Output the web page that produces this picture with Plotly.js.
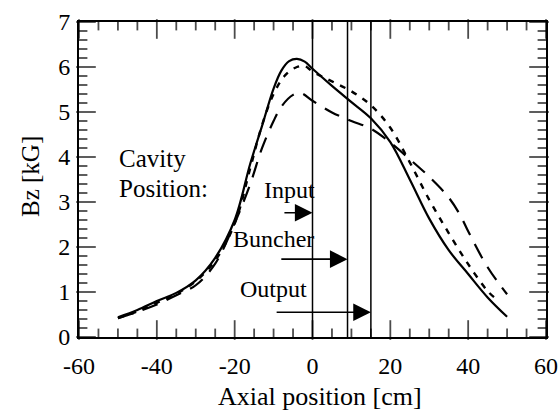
<!DOCTYPE html>
<html>
<head>
<meta charset="utf-8">
<script src="https://cdn.plot.ly/plotly-3.0.1.min.js"></script>
<style>html,body{margin:0;padding:0;background:#fff;}#chart{width:559px;height:420px;}</style>
</head>
<body>
<div id="chart"></div>
<script>
// Solid curve
const solidX = [-50,-45,-40,-35,-30,-25,-20,-16,-13,-10,-8,-6,-4,-2,0,5,10,15,20,25,30,35,40,45,50];
const solidY = [0.44,0.60,0.80,0.98,1.26,1.76,2.60,3.85,4.68,5.52,5.92,6.13,6.18,6.12,5.96,5.58,5.22,4.86,4.33,3.50,2.63,1.93,1.40,0.88,0.45];
// Short-dashed curve
const shortX = [-50,-45,-40,-35,-30,-25,-20,-16,-13,-10,-7,-4,-2,0,5,10,15,20,25,30,35,40,45,47];
const shortY = [0.42,0.57,0.76,0.96,1.24,1.70,2.52,3.75,4.70,5.40,5.82,6.00,6.02,5.90,5.68,5.46,5.15,4.65,3.88,3.05,2.31,1.62,1.02,0.86];
// Long-dashed curve
const longX = [-50,-45,-40,-35,-30,-25,-20,-16,-13,-10,-8,-5,-3,0,5,10,15,20,25,30,35,38,40,45,50];
const longY = [0.42,0.56,0.72,0.93,1.15,1.63,2.53,3.40,4.19,4.80,5.12,5.38,5.42,5.25,4.99,4.80,4.63,4.32,3.95,3.56,3.10,2.70,2.35,1.55,0.95];
// Cavity positions (vertical lines) and arrows
const cavityNames = ['Input','Buncher','Output'];
const cavityX = [0, 9, 15];
const arrowY = [2.76, 1.73, 0.55];
const arrowTailX = [-7.6, -8.4, -9.6];
// Ticks
const xTickVals = [-60,-40,-20,0,20,40,60];
const xTickText = ['-60','-40','-20','0','20','40','60'];
const xMinorStep = 5;
const yTickVals = [0,1,2,3,4,5,6,7];
const yTickText = ['0','1','2','3','4','5','6','7'];
const yMinorStep = 0.2;

const FONT = '"Liberation Serif", "Times New Roman", serif';
const W = 559, H = 420;
const MARGIN = {l:79, r:13, t:22, b:83};
const XR = [-60, 60], YR = [0, 7];
const plotW = W - MARGIN.l - MARGIN.r, plotH = H - MARGIN.t - MARGIN.b;
const pxX = (XR[1] - XR[0]) / plotW;
const pxY = (YR[1] - YR[0]) / plotH;
const MAJ = 14, MIN = 7;   // inward tick lengths in px

// inward ticks as line-shaped markers centred half a tick length inside each edge
const xtX = [], xtY = [], xtS = [];
const ytX = [], ytY = [], ytS = [];
function xTick(v, len){
  xtX.push(v, v); xtY.push(YR[0] + len / 2 * pxY, YR[1] - len / 2 * pxY); xtS.push(len, len);
}
function yTick(v, len){
  ytY.push(v, v); ytX.push(XR[0] + len / 2 * pxX, XR[1] - len / 2 * pxX); ytS.push(len, len);
}
xTickVals.forEach(function(v){ xTick(v, MAJ); });
for (let v = XR[0] + xMinorStep; v < XR[1]; v += xMinorStep) { if (xTickVals.indexOf(v) < 0) xTick(v, MIN); }
yTickVals.forEach(function(v){ yTick(v, MAJ); });
for (let i = 1; i * yMinorStep < YR[1] - 1e-9; i++) { const v = +(i * yMinorStep).toFixed(3); if (Math.abs(v - Math.round(v)) > 1e-6) yTick(v, MIN); }

const vx = [], vy = [];
cavityX.forEach(function(c){ vx.push(c, c, null); vy.push(YR[0], YR[1], null); });

const traces = [
  {x: solidX, y: solidY, mode:'lines', line:{color:'#000', width:2.2, shape:'spline', smoothing:1}, showlegend:false, hoverinfo:'skip'},
  {x: shortX, y: shortY, mode:'lines', line:{color:'#000', width:2.4, dash:'6px,7px', shape:'spline', smoothing:1}, showlegend:false, hoverinfo:'skip'},
  {x: longX, y: longY, mode:'lines', line:{color:'#000', width:2.2, dash:'16px,10px', shape:'spline', smoothing:1}, showlegend:false, hoverinfo:'skip'},
  {x: vx, y: vy, mode:'lines', line:{color:'#000', width:1.5}, showlegend:false, hoverinfo:'skip'},
  {x: xtX, y: xtY, mode:'markers', cliponaxis:false, marker:{symbol:'line-ns', size:xtS, color:'#000', line:{color:'#000', width:1.8}}, showlegend:false, hoverinfo:'skip'},
  {x: ytX, y: ytY, mode:'markers', cliponaxis:false, marker:{symbol:'line-ew', size:ytS, color:'#000', line:{color:'#000', width:1.8}}, showlegend:false, hoverinfo:'skip'}
];

const annotations = [];
cavityX.forEach(function(c, i){
  annotations.push({x: c, y: arrowY[i], ax: arrowTailX[i], ay: arrowY[i], xref:'x', yref:'y', axref:'x', ayref:'y',
    showarrow:true, arrowhead:2, arrowsize:2.2, arrowwidth:1.6, arrowcolor:'#000', text:'', standoff:0});
});
const labelPos = [[-6.0, 3.27], [-9.9, 2.17], [-10.0, 1.06]];
cavityNames.forEach(function(n, i){
  annotations.push({x: labelPos[i][0], y: labelPos[i][1], xref:'x', yref:'y', text:n, showarrow:false,
    font:{family:FONT, size:24, color:'#000'}, xanchor:'center', yanchor:'middle'});
});
annotations.push({x:-50.3, y:3.97, xref:'x', yref:'y', text:'Cavity', showarrow:false, xanchor:'left', yanchor:'middle', font:{family:FONT, size:25, color:'#000'}});
annotations.push({x:-50.3, y:3.30, xref:'x', yref:'y', text:'Position:', showarrow:false, xanchor:'left', yanchor:'middle', font:{family:FONT, size:25, color:'#000'}});
annotations.push({x:0.516, y:-0.19, xref:'paper', yref:'paper', text:'Axial position [cm]', showarrow:false, xanchor:'center', yanchor:'middle', font:{family:FONT, size:26, color:'#000'}});
annotations.push({x:-0.105, y:0.511, xref:'paper', yref:'paper', text:'Bz [kG]', textangle:-90, showarrow:false, xanchor:'center', yanchor:'middle', font:{family:FONT, size:25, color:'#000'}});

const layout = {
  width:W, height:H,
  margin:{l:MARGIN.l, r:MARGIN.r, t:MARGIN.t, b:MARGIN.b},
  paper_bgcolor:'#fff', plot_bgcolor:'#fff',
  font:{family:FONT, color:'#000'},
  xaxis:{range:XR, tickmode:'array', tickvals:xTickVals, ticktext:xTickText, ticks:'',
    showline:true, linewidth:2, linecolor:'#000', mirror:true, showgrid:false, zeroline:false,
    tickfont:{family:FONT, size:24, color:'#000'}, ticklabelstandoff:6},
  yaxis:{range:YR, tickmode:'array', tickvals:yTickVals, ticktext:yTickText, ticks:'',
    showline:true, linewidth:2, linecolor:'#000', mirror:true, showgrid:false, zeroline:false,
    tickfont:{family:FONT, size:24, color:'#000'}, ticklabelstandoff:2},
  annotations: annotations
};

Plotly.newPlot('chart', traces, layout, {staticPlot:true});
</script>
</body>
</html>
